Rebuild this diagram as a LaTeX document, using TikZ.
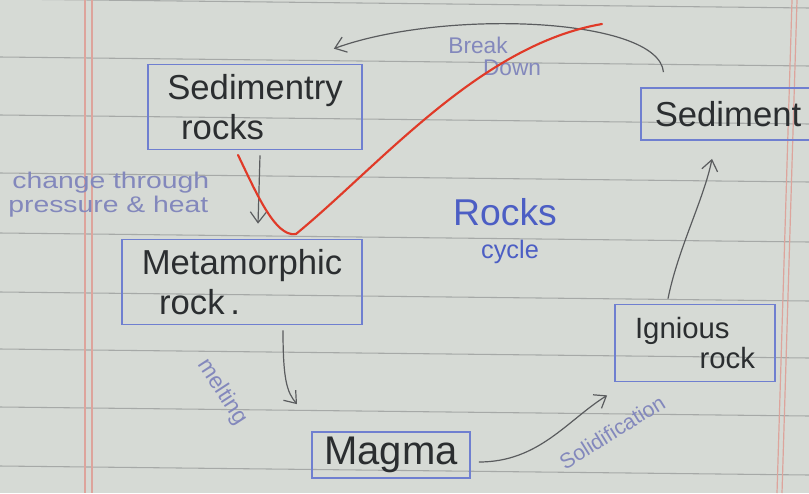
\documentclass[tikz,border=0pt]{standalone}
\usepackage{fontspec}
\setmainfont{Liberation Sans}
\usetikzlibrary{arrows.meta,calc}
\definecolor{paper}{HTML}{D6DAD5}
\definecolor{rulegray}{HTML}{A6A9A7}
\definecolor{marginpink}{HTML}{DDA49C}
\definecolor{boxblue}{HTML}{6F7FD0}
\definecolor{ink}{HTML}{2B2E30}
\definecolor{pencil}{HTML}{5A5C5E}
\definecolor{lilac}{HTML}{8388BC}
\definecolor{bluepen}{HTML}{4C5EC4}
\definecolor{redpen}{HTML}{E03A28}
\begin{document}
\begin{tikzpicture}[x=0.75pt,y=-0.75pt,
  rockbox/.style={draw=boxblue,line width=1.3pt,rectangle,inner sep=0pt,text=ink,align=left,font=\fontsize{26}{30}\selectfont},
  arr/.style={draw=pencil,line width=0.9pt,-{Straight Barb[length=8pt,width=12pt]}},
  note/.style={text=lilac,inner sep=0pt,font=\fontsize{17}{18}\selectfont},
]
\fill[paper] (0,0) rectangle (809,493);
\useasboundingbox (0,0) rectangle (809,493);
\begin{scope}
\clip (0,0) rectangle (809,493);
\foreach \y in {-1,57,115,173,233,292,349,407,466}{
  \draw[rulegray,line width=0.8pt] (0,\y) -- (809,\y+9);
}
\draw[marginpink,line width=0.9pt] (85,0) -- (85,493);
\draw[marginpink,line width=0.9pt] (92,0) -- (92,493);
\draw[marginpink,line width=0.9pt] (792,0) -- (777,493);
\draw[marginpink,line width=0.9pt] (797,0) -- (782,493);

% boxes
\node[rockbox,minimum width=160.5pt,minimum height=63.75pt] (sedr) at (255,107)
  {Sedimentry\\\hspace*{0.4em}rocks};
\node[rockbox,minimum width=180pt,minimum height=63.75pt] (meta) at (242,282)
  {Metamorphic\\\hspace*{0.5em}rock\,.};
\node[rockbox,minimum width=118.5pt,minimum height=34.5pt,font=\fontsize{30}{32}\selectfont] (magma) at (391,455)
  {Magma};
\node[rockbox,minimum width=120pt,minimum height=57.75pt,font=\fontsize{22}{23}\selectfont] (ign) at (695,343)
  {Ignious\\\hspace*{2.2em}rock};
\node[rockbox,minimum width=130pt,minimum height=39pt] (sed) at (728,114)
  {Sediment};

% connectors
\draw[arr] ($(sedr.south)+(5,5)$) -- ($(meta.north)+(16,-15)$);
\draw[arr] ($(meta.south)+(41,5)$) .. controls +(0,50) and +(-10,-12) .. ($(magma.north)+(-94,-27)$);
\draw[arr] ($(magma.east)+(8,7)$) .. controls +(60,0) and +(-40,25) .. ($(ign.south west)+(-7,13)$);
\draw[arr] ($(ign.north)+(-27,-5)$) .. controls +(10,-50) and +(-8,40) .. ($(sed.south)+(-16,18)$);
\draw[arr] ($(sed.north west)+(23,-15)$) .. controls +(-5,-55) and +(110,-40) .. ($(sedr.north east)+(-29,-15)$);

% labels
\node[note,xscale=1.25,anchor=west] (lch) at (12,183) {change through};
\node[note,xscale=1.25,anchor=west] (lph) at (8,207) {pressure \& heat};
\node[note] (lbr) at (478,45) {Break};
\node[note] (ldn) at (512,68) {Down};
\node[note,rotate=-57] (lme) at (222,392) {melting};
\node[note,rotate=32,font=\fontsize{16}{17}\selectfont] (lso) at (612,432) {Solidification};
\node[text=bluepen,font=\fontsize{28}{30}\selectfont] (lrk) at (505,212) {Rocks};
\node[text=bluepen,font=\fontsize{19}{20}\selectfont] (lcy) at (510,252) {cycle};

% red check mark
\draw[redpen,line width=1.6pt,line cap=round] (238,155) .. controls (255,190) and (275,238) .. (296,234) .. controls (380,165) and (480,45) .. (602,24);
\end{scope}
\end{tikzpicture}
\end{document}
